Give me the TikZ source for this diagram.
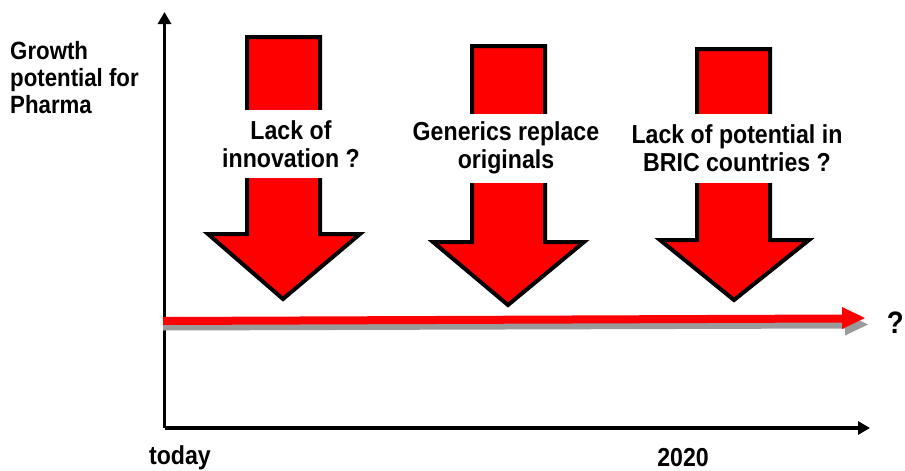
\documentclass[tikz,border=0pt]{standalone}
\usepackage{fontspec}
\setmainfont{Liberation Sans}[FakeStretch=0.89]
\usetikzlibrary{arrows.meta}
\definecolor{pred}{HTML}{FF0000}
\definecolor{pgray}{HTML}{9A9A9A}
\tikzset{
  lbl/.style={font=\fontsize{26}{28.5}\selectfont\bfseries, text=black, align=center, inner sep=0pt},
  band/.style={lbl, fill=white, minimum width=200pt},
  downarrow/.style={draw=black, line width=4pt, fill=pred, line join=miter},
  axis/.style={draw=black, line width=3.5pt, -{Triangle[length=12pt,width=13pt]}},
}
\begin{document}
\begin{tikzpicture}[x=1pt,y=-1pt]
\useasboundingbox (0,0) rectangle (905,471);
\fill[white] (0,0) rectangle (905,471);

% axes
\coordinate (o) at (164.5,428);
\coordinate (ytop) at (164.5,12);
\coordinate (xend) at (870,428);
\draw[axis] (o) -- (ytop);
\draw[axis] (o) -- (xend);

% trend line with shadow
\coordinate (ls) at (163,321);
\coordinate (le) at (842,318.5);
\coordinate (ht) at (865,318);
\coordinate (hu) at (842,307);
\coordinate (hd) at (842,329);
\coordinate (sls) at (163,327);
\coordinate (sle) at (845,325);
\coordinate (sht) at (868,324.5);
\coordinate (shu) at (845,313.5);
\coordinate (shd) at (845,335.5);
\draw[pgray, line width=7pt] (sls) -- (sle);
\fill[pgray] (shu) -- (sht) -- (shd) -- cycle;
\draw[pred, line width=8pt] (ls) -- (le);
\fill[pred] (hu) -- (ht) -- (hd) -- cycle;

% down arrows
\draw[downarrow] (247,37) -- (320,37) -- (320,234) -- (360,234) -- (283,299) -- (208,234) -- (247,234) -- cycle;
\draw[downarrow] (472,46) -- (545,46) -- (545,242) -- (584,242) -- (508,305) -- (433,242) -- (472,242) -- cycle;
\draw[downarrow] (697,49) -- (770,49) -- (770,240) -- (809,240) -- (734,300) -- (660,240) -- (697,240) -- cycle;

% text bands
\node[band, minimum height=68pt] (t1) at (291,144) {Lack of\\innovation ?};
\node[band, minimum height=69pt] (t2) at (506,148) {Generics replace\\originals};
\node[band, minimum height=69pt, minimum width=230pt] (t3) at (737,148) {Lack of potential in\\BRIC countries ?};

% labels
\node[lbl, align=left, anchor=north west, font=\fontsize{25}{27}\selectfont\bfseries] (ylab) at (10,41) {Growth\\potential for\\Pharma};
\node[lbl] (today) at (180,458) {today};
\node[lbl] (y2020) at (683,458) {2020};
\node[lbl, anchor=east, font=\fontsize{31}{34}\selectfont\bfseries] (q) at (904,323) {?};
\end{tikzpicture}
\end{document}
